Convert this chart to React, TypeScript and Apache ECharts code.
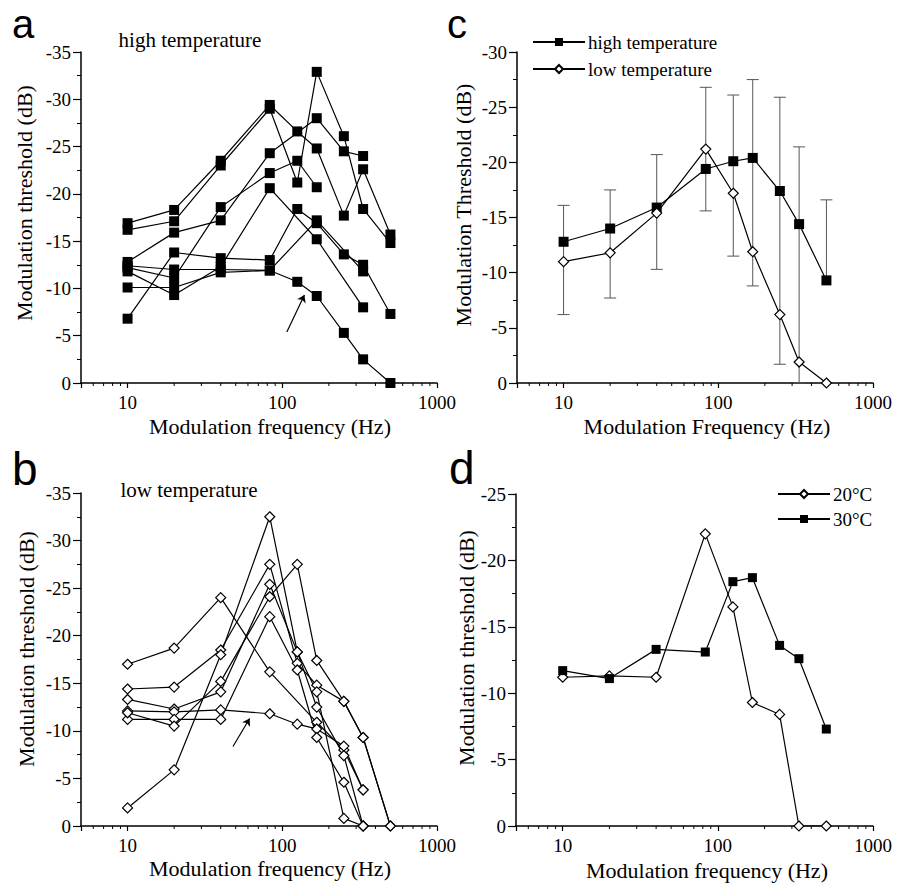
import React, { useEffect, useRef } from "react";
import * as echarts from "echarts";

// Modulation frequencies (Hz) shared by all panels
const FREQS = [10, 20, 40, 83, 125, 167, 250, 333, 500];
// Minor tick positions on the logarithmic frequency axes
const MINOR_FREQS = [6, 7, 8, 9, 20, 30, 40, 50, 60, 70, 80, 90, 200, 300, 400, 500, 600, 700, 800, 900];
const FREQ_LABELS = [10, 100, 1000];

// Panel a: individual thresholds at high temperature (dB)
const highA1 = [-16.9, -18.3, -23.5, -29.4, -26.6, -24.8, -17.7, -22.6, -15.7];
const highA2 = [-16.2, -17.1, -23.0, -29.0, -21.2, -32.9, -26.1, -18.4, -14.8];
const highA3 = [-12.8, -15.9, -17.2, -24.3, null, -28.0, -24.5, -24.0, null];
const highA4 = [-12.2, -11.1, -18.6, -22.2, -23.5, -20.7, null, null, null];
const highA5 = [-6.8, -13.8, -13.2, -13.0, -18.4, -16.9, -13.6, -12.5, -7.3];
const highA6 = [-11.8, -9.3, -12.3, -20.6, null, -15.2, null, -8.0, null];
const highA7 = [-12.4, -12.0, -12.0, -11.9, -10.7, -9.2, -5.3, -2.5, 0];
const highA8 = [-10.1, -10.1, -11.7, -11.9, null, -17.2, null, -11.8, null];
const HIGH_LINES = [highA1, highA2, highA3, highA4, highA5, highA6, highA7, highA8];

// Panel b: individual thresholds at low temperature (dB)
const lowB1 = [-17.0, -18.7, -24.0, -16.2, null, -10.9, -8.0, -3.8, null];
const lowB2 = [-14.4, -14.6, -18.5, -27.5, -17.1, -14.8, -13.1, -9.3, 0];
const lowB3 = [-13.3, -12.3, -14.1, -25.4, -18.3, -12.5, -7.4, 0, null];
const lowB4 = [-12.1, -12.0, -12.2, -11.8, -10.7, -10.2, -8.4, -3.8, null];
const lowB5 = [-11.2, -11.2, -11.2, -22.0, -16.4, -9.3, -4.6, 0, null];
const lowB6 = [-11.9, -10.5, -15.2, -24.1, -27.5, -17.4, -13.1, -9.3, 0];
const lowB7 = [-1.9, -5.9, -18.0, -32.5, -18.3, -14.1, -0.8, 0, null];
const LOW_LINES = [lowB1, lowB2, lowB3, lowB4, lowB5, lowB6, lowB7];

// Panel c: mean thresholds with error bar ends (dB)
const meanHigh = [-12.8, -14.0, -15.9, -19.4, -20.1, -20.4, -17.4, -14.4, -9.3];
const meanLow = [-11.0, -11.8, -15.4, -21.2, -17.2, -11.9, -6.2, -1.9, 0];
const errTop = [-16.1, -17.5, -20.7, -26.8, -26.1, -27.5, -25.9, -21.4, -16.6];
const errBottom = [-6.2, -7.7, -10.3, -15.6, -11.5, -8.8, -1.7, 0, null];

// Panel d: one animal at two temperatures (dB)
const temp20 = [-11.2, -11.3, -11.2, -22.0, -16.5, -9.3, -8.4, 0, 0];
const temp30 = [-11.7, -11.1, -13.3, -13.1, -18.4, -18.7, -13.6, -12.6, -7.3];

const SERIF = "'Liberation Serif', 'Times New Roman', serif";
const SANS = "'Liberation Sans', Arial, sans-serif";

const pairs = (vals: (number | null)[]) =>
  FREQS.map((f, i) => (vals[i] == null ? null : [f, vals[i] as number])).filter(Boolean) as number[][];

const xAxisFor = (gridIndex: number) => ({
  type: "log",
  logBase: 10,
  gridIndex,
  min: 5,
  max: 1000,
  axisLine: { show: true, onZero: false, lineStyle: { color: "#000", width: 1.5 } },
  axisTick: { show: true, length: 5, lineStyle: { color: "#000", width: 1.2 } },
  axisLabel: {
    fontFamily: SERIF,
    fontSize: 19,
    color: "#000",
    margin: 10,
    formatter: (v: number) => {
      const r = Math.round(v);
      return FREQ_LABELS.includes(r) && Math.abs(v - r) < 0.01 ? String(r) : "";
    },
  },
  splitLine: { show: false },
});

const yAxisFor = (gridIndex: number, min: number) => ({
  type: "value",
  gridIndex,
  min,
  max: 0,
  interval: 5,
  inverse: true,
  axisLine: { show: true, onZero: false, lineStyle: { color: "#000", width: 1.5 } },
  axisTick: { show: true, length: 8, lineStyle: { color: "#000", width: 1.2 } },
  minorTick: { show: true, splitNumber: 2, length: 4, lineStyle: { color: "#000", width: 1 } },
  axisLabel: { fontFamily: SERIF, fontSize: 19, color: "#000", margin: 10 },
  splitLine: { show: false },
});

const minorTickSeries = (idx: number) => ({
  type: "custom",
  xAxisIndex: idx,
  yAxisIndex: idx,
  silent: true,
  clip: false,
  z: 1,
  data: MINOR_FREQS.map((f) => [f, 0]),
  renderItem: (_p: any, api: any) => {
    const p = api.coord([api.value(0), api.value(1)]);
    return {
      type: "line",
      shape: { x1: p[0], y1: p[1], x2: p[0], y2: p[1] + 3 },
      style: { stroke: "#000", lineWidth: 1 },
    };
  },
});

const squareStyle = { color: "#000", borderColor: "#000", borderWidth: 0 };
const diamondStyle = { color: "#fff", borderColor: "#000", borderWidth: 1.2 };

const lineSeries = (
  idx: number,
  vals: (number | null)[],
  kind: "square" | "diamond",
  size: number,
  name?: string
) => ({
  type: "line",
  name,
  xAxisIndex: idx,
  yAxisIndex: idx,
  data: pairs(vals),
  symbol: kind === "square" ? "rect" : "diamond",
  symbolSize: size,
  showAllSymbol: true,
  lineStyle: { color: "#000", width: 1.2 },
  itemStyle: kind === "square" ? squareStyle : diamondStyle,
  emphasis: { disabled: true },
  z: 3,
});

const arrowLine = (from: number[], to: number[]) => ({
  silent: true,
  symbol: ["none", "arrow"],
  symbolSize: 7,
  label: { show: false },
  lineStyle: { color: "#000", width: 1.2, type: "solid" },
  data: [[{ coord: from }, { coord: to }]],
});

const text = (
  str: string,
  x: number,
  y: number,
  size: number,
  family: string,
  opts: Record<string, any> = {}
) => ({
  type: "text",
  x,
  y,
  rotation: opts.rotation || 0,
  style: {
    text: str,
    fill: "#000",
    font: `${size}px ${family}`,
    align: opts.align || "center",
    verticalAlign: opts.verticalAlign || "middle",
  },
});

export default function App() {
  const ref = useRef<HTMLDivElement>(null);

  useEffect(() => {
    if (!ref.current) return;
    const chart = echarts.init(ref.current, undefined, { renderer: "svg" });

    const series: any[] = [];
    [0, 1, 2, 3].forEach((i) => series.push(minorTickSeries(i)));

    HIGH_LINES.forEach((vals, i) => {
      const s: any = lineSeries(0, vals, "square", 10);
      if (i === 0) s.markLine = arrowLine([107, -5.4], [139, -9.3]);
      series.push(s);
    });

    LOW_LINES.forEach((vals, i) => {
      const s: any = lineSeries(2, vals, "diamond", 10);
      if (i === 0) s.markLine = arrowLine([48, -8.35], [61.5, -11.3]);
      series.push(s);
    });

    // error bars for panel c
    series.push({
      type: "custom",
      xAxisIndex: 1,
      yAxisIndex: 1,
      silent: true,
      z: 2,
      data: FREQS.map((f, i) => [f, errTop[i], errBottom[i] == null ? meanHigh[i] : errBottom[i], errBottom[i] == null ? 0 : 1]),
      renderItem: (_p: any, api: any) => {
        const top = api.coord([api.value(0), api.value(1)]);
        const bot = api.coord([api.value(0), api.value(2)]);
        const cap = 6;
        const children: any[] = [
          { type: "line", shape: { x1: top[0], y1: top[1], x2: bot[0], y2: bot[1] }, style: { stroke: "#555", lineWidth: 1 } },
          { type: "line", shape: { x1: top[0] - cap, y1: top[1], x2: top[0] + cap, y2: top[1] }, style: { stroke: "#555", lineWidth: 1 } },
        ];
        if (api.value(3) === 1) {
          children.push({ type: "line", shape: { x1: bot[0] - cap, y1: bot[1], x2: bot[0] + cap, y2: bot[1] }, style: { stroke: "#555", lineWidth: 1 } });
        }
        return { type: "group", children };
      },
    });
    series.push(lineSeries(1, meanHigh, "square", 10, "high temperature"));
    series.push(lineSeries(1, meanLow, "diamond", 10, "low temperature"));

    series.push(lineSeries(3, temp20, "diamond", 10, "20°C"));
    series.push(lineSeries(3, temp30, "square", 9, "30°C"));

    const legendBase = {
      orient: "vertical",
      itemWidth: 52,
      itemHeight: 10,
      itemGap: 7,
      selectedMode: false,
      textStyle: { fontFamily: SERIF, fontSize: 19, color: "#000", lineHeight: 20, padding: [0, 0, 0, -2] },
    };

    chart.setOption({
      animation: false,
      backgroundColor: "#fff",
      grid: [
        { left: 81, top: 52, width: 356, height: 331 },
        { left: 517, top: 52, width: 356, height: 331 },
        { left: 81, top: 493, width: 356, height: 333 },
        { left: 516, top: 494, width: 357, height: 332 },
      ],
      xAxis: [xAxisFor(0), xAxisFor(1), xAxisFor(2), xAxisFor(3)],
      yAxis: [yAxisFor(0, -35), yAxisFor(1, -30), yAxisFor(2, -35), yAxisFor(3, -25)],
      legend: [
        { ...legendBase, data: ["high temperature", "low temperature"], left: 527, top: 27 },
        { ...legendBase, data: ["20°C", "30°C"], left: 772, top: 479, itemGap: 5 },
      ],
      series,
      graphic: [
        text("a", 12, 24, 40, SANS, { align: "left" }),
        text("b", 12, 468.5, 46, SANS, { align: "left" }),
        text("c", 447, 24, 40, SANS, { align: "left" }),
        text("d", 449, 467.5, 46, SANS, { align: "left" }),
        text("high temperature", 190, 40, 21, SERIF),
        text("low temperature", 189, 490, 21, SERIF),
        text("Modulation frequency (Hz)", 270, 426, 22, SERIF),
        text("Modulation threshold (dB)", 24, 203, 22, SERIF, { rotation: Math.PI / 2 }),
        text("Modulation Frequency (Hz)", 707, 426, 22, SERIF),
        text("Modulation Threshold (dB)", 463, 205, 22, SERIF, { rotation: Math.PI / 2 }),
        text("Modulation frequency (Hz)", 270, 868, 22, SERIF),
        text("Modulation threshold (dB)", 26, 649, 22, SERIF, { rotation: Math.PI / 2 }),
        text("Modulation frequency (Hz)", 707, 870, 22, SERIF),
        text("Modulation threshold (dB)", 466, 648, 22, SERIF, { rotation: Math.PI / 2 }),
      ],
    });

    return () => chart.dispose();
  }, []);

  return (
    <div
      ref={ref}
      style={{ position: "absolute", left: 0, top: 0, width: 904, height: 885, background: "#fff" }}
    />
  );
}
